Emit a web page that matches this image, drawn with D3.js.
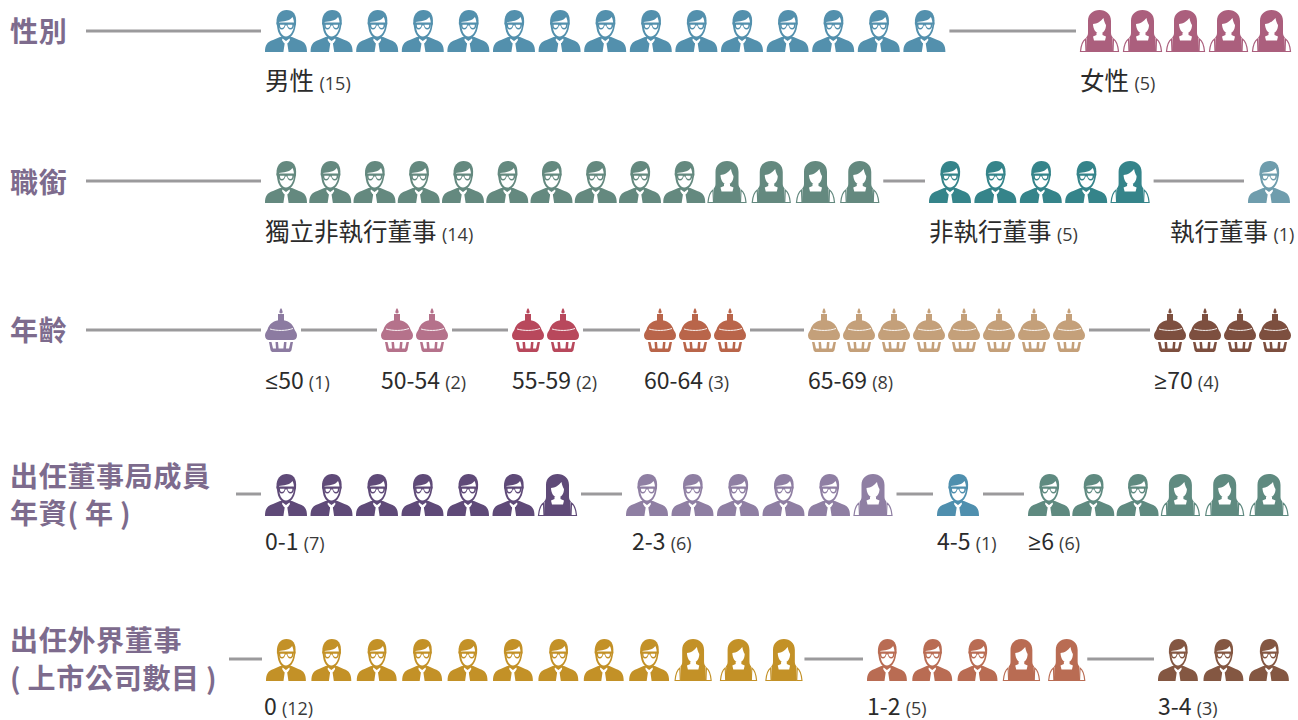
<!DOCTYPE html>
<html>
<head>
<meta charset="utf-8">
<script src="https://cdn.jsdelivr.net/npm/d3@7"></script>
<style>
html, body { margin: 0; padding: 0; background: #fff; }
svg { display: block; }
.title { font-family: "Noto Sans CJK TC"; font-weight: 700; font-size: 28px; letter-spacing: 0.7px; fill: #7d6b8d; }
.label { font-family: "Noto Sans CJK TC"; font-size: 23px; fill: #2b2b2b; }
.label.cjk { font-size: 24.5px; }
.label .sign { font-family: "Open Sans"; font-size: 23px; }
.label .count { font-family: "Open Sans"; font-size: 18px; fill: #3a3a3a; }
</style>
</head>
<body>
<svg width="1298" height="720"></svg>
<script>
'use strict';

// 每列的標題
var rowTitles = [['性別'], ['職銜'], ['年齡'], ['出任董事局成員', '年資(\u2009年\u2009)'], ['出任外界董事', '(\u2009上市公司數目\u2009)']];

// 每組的名稱 / 人數 / 其中女性人數 / 顏色
var rowLabels = [
    ['男性', '女性'],
    ['獨立非執行董事', '非執行董事', '執行董事'],
    ['≤50', '50-54', '55-59', '60-64', '65-69', '≥70'],
    ['0-1', '2-3', '4-5', '≥6'],
    ['0', '1-2', '3-4']
];
var rowCounts = [
    [15, 5],
    [14, 5, 1],
    [1, 2, 2, 3, 8, 4],
    [7, 6, 1, 6],
    [12, 5, 3]
];
var rowFemales = [
    [0, 5],
    [4, 1, 0],
    [0, 0, 0, 0, 0, 0],
    [1, 1, 0, 3],
    [3, 2, 0]
];
var rowColors = [
    ['#5390ad', '#ab5f7d'],
    ['#64897f', '#35848a', '#6f9dad'],
    ['#8c7ba1', '#b5728b', '#b8485c', '#b9654a', '#c4a07a', '#7d4f3f'],
    ['#5f4a78', '#8f7fa3', '#4f8fae', '#5f8a80'],
    ['#c39127', '#b96c53', '#845742']
];

// 版面
var rowY = [10, 161, 308, 474, 639];
var rowLineY = [31, 181, 330, 494, 659];
var rowLineStart = [86, 86, 86, 236, 229];
var titleY = [[42], [193], [341], [487, 524], [651, 689]];
var groupX = [
    [265, 1080],
    [265, 929, 1248],
    [265, 381, 512, 644, 808, 1154],
    [265, 626, 937, 1028],
    [266, 867, 1158]
];
var groupPitch = [
    [45.6, 43],
    [44.25, 45.4, 0],
    [35, 35, 35, 35, 35, 35],
    [45.5, 45.5, 0, 44.3],
    [45.4, 45.3, 45.5]
];
var labelY = [90, 241, 389, 550, 715];
var labelDx = [[0, 0], [0, 0, -78], [0, 0, 0, 0, 0, 0], [0, 6, 0, 0], [-2, 0, 0]];
var lineGap = [4, 4, 4, 4, 2];
var iconScale = [1, 1, 1, 1, 0.95];

var personW = 42, womanW = 39, cupW = 32;

var svg = d3.select('svg');
var defs = svg.append('defs');

// 男性圖示 (42x42)
var man = defs.append('g').attr('id', 'man');
man.append('path').attr('d', 'M0,42 C0,35 2,32 8,30 L15,27 L27,27 L34,30 C40,32 42,35 42,42 Z').attr('fill', 'currentColor');
man.append('path').attr('d', 'M11.5,13 C11,4 16,0 21.5,0 C28,0 32,4 31,14 L30,19 C28.5,25 24.5,29 21,29 C17.5,29 13.5,25 12.5,19 Z').attr('fill', 'currentColor');
man.append('path').attr('d', 'M14,12 C18,11.5 25,11 27.5,7 C28.5,9 29,11 29,14 C29,21 25,26.5 21,26.5 C17,26.5 13.5,21 14,12 Z').attr('fill', '#fff');
man.append('path').attr('d', 'M11.5,12.5 L31,12.5 L31,14.5 L29,14.5 C29,18 27.5,19.5 25.5,19.5 C23.5,19.5 22.3,17.5 22,15.5 L20.3,15.5 C20,17.5 18.8,19.5 16.8,19.5 C14.8,19.5 13.5,18 13.5,14.5 L11.5,14.5 Z M15,14.7 C15,16.8 15.5,18 16.8,18 C18.6,18 19.5,16.4 19.6,14.7 Z M22.6,14.7 C22.7,16.4 23.7,18 25.5,18 C26.8,18 27.4,16.8 27.4,14.7 Z').attr('fill', 'currentColor').attr('fill-rule', 'evenodd');
man.append('path').attr('d', 'M17.5,28.5 L21,31 L24.5,28.5 L25,30 L23,33 L19,33 L17,30 Z').attr('fill', '#fff');
man.append('path').attr('d', 'M19.3,31 L22.7,31 L22.4,34 L23.6,42 L18.4,42 L19.6,34 Z').attr('fill', '#fff');

// 女性圖示 (39x42)
var woman = defs.append('g').attr('id', 'woman');
woman.append('path').attr('d', 'M8,23 L8,11 C8,4 13,0 19.5,0 C26,0 31,4 31,11 L31,23 C31,25 32,26.5 33,28 L6,28 C7,26.5 8,25 8,23 Z').attr('fill', 'currentColor');
woman.append('path').attr('d', 'M13,14 C17,14 21,11 23.5,8 C24,11 25,13.5 26,15 C26,20 23,23.5 19.5,23.5 C16,23.5 13,19 13,14 Z').attr('fill', '#fff');
woman.append('path').attr('d', 'M6.5,28 L13,26 L26,26 L32.5,28 L33,42 L6,42 Z').attr('fill', 'currentColor');
woman.append('path').attr('d', 'M16.5,23 L22.5,23 L22.5,25 L26,26.5 L25,30.5 L14,30.5 L13,26.5 L16.5,25 Z').attr('fill', '#fff');
woman.append('path').attr('d', 'M5.5,29 C2.5,31 1,36 0.5,41.5 L6,41.5 Z M33.5,29 C36.5,31 38,36 38.5,41.5 L33,41.5 Z').attr('fill', 'none').attr('stroke', 'currentColor').attr('stroke-width', 1.2);

// 蛋糕圖示 (32x44)
var cup = defs.append('g').attr('id', 'cup');
cup.append('path').attr('d', 'M16,0 C17.2,2 17.6,3 17.6,4 C17.6,5 17,5.4 16,5.4 C15,5.4 14.4,5 14.4,4 C14.4,3 14.8,2 16,0 Z').attr('fill', 'currentColor');
cup.append('rect').attr('x', 13).attr('y', 6).attr('width', 6).attr('height', 7).attr('fill', 'currentColor');
cup.append('path').attr('d', 'M0,27.5 C0,25 1.5,23.5 2.5,21.5 C4,16 9,12 16,12 C23,12 28,16 29.5,21.5 C30.5,23.5 32,25 32,27.5 C32,30.5 30,32 28,32 L4,32 C2,32 0,30.5 0,27.5 Z').attr('fill', 'currentColor');
cup.append('path').attr('d', 'M5,21 C12,23 21,23 28,20.5').attr('fill', 'none').attr('stroke', '#fff').attr('stroke-width', 0.9);
cup.append('path').attr('d', 'M4,34 L6.5,34 L8,40.5 L11,40.5 L10.5,34 L13,34 L13.6,40.5 L18.4,40.5 L19,34 L21.5,34 L21,40.5 L24,40.5 L25.5,34 L28,34 L26.5,42 C26,43.5 25,44 24,44 L8,44 C7,44 6,43.5 5.5,42 Z').attr('fill', 'currentColor');

// 標題
rowTitles.forEach(function (lines, r) {
    lines.forEach(function (line, l) {
        svg.append('text')
            .attr('class', 'title')
            .attr('x', 10)
            .attr('y', titleY[r][l])
            .text(line);
    });
});

// 每列: 灰線 + 圖示 + 文字
rowCounts.forEach(function (counts, r) {
    var isCup = r === 2;
    var rowG = svg.append('g');

    function isWoman(g, i) {
        return i >= counts[g] - rowFemales[r][g];
    }

    // 灰線: 由標題到第一組, 再連接各組之間
    var ends = counts.map(function (c, g) {
        var w = isCup ? cupW : (rowFemales[r][g] ? womanW : personW);
        return groupX[r][g] + (c - 1) * groupPitch[r][g] + w * iconScale[r];
    });
    var segs = [[rowLineStart[r], groupX[r][0] - 4]];
    for (var g = 1; g < counts.length; g++) {
        segs.push([ends[g - 1] + lineGap[r], groupX[r][g] - 4]);
    }
    rowG.selectAll('line')
        .data(segs)
        .enter()
        .append('line')
        .attr('x1', function (d) { return d[0]; })
        .attr('x2', function (d) { return d[1]; })
        .attr('y1', rowLineY[r])
        .attr('y2', rowLineY[r])
        .attr('stroke', '#9b9a9c')
        .attr('stroke-width', 3);

    counts.forEach(function (c, g) {
        var x = d3.scaleLinear().domain([0, 1]).range([groupX[r][g], groupX[r][g] + groupPitch[r][g]]);
        rowG.append('g')
            .selectAll('use')
            .data(d3.range(c))
            .enter()
            .append('use')
            .attr('href', function (i) {
                if (isCup) return '#cup';
                return isWoman(g, i) ? '#woman' : '#man';
            })
            .attr('transform', function (i) {
                return 'translate(' + x(i) + ',' + rowY[r] + ') scale(' + iconScale[r] + ',1)';
            })
            .style('color', rowColors[r][g]);

        var name = rowLabels[r][g];
        var isCjk = /[\u4e00-\u9fff]/.test(name);
        var t = rowG.append('text')
            .attr('class', isCjk ? 'label cjk' : 'label')
            .attr('x', groupX[r][g] + labelDx[r][g])
            .attr('y', labelY[r]);
        if (/^[≤≥]/.test(name)) {
            t.append('tspan').attr('class', 'sign').text(name.charAt(0));
            name = name.slice(1);
        }
        t.append('tspan').text(name + ' ');
        t.append('tspan').attr('class', 'count').text('(' + c + ')');
    });
});
</script>
</body>
</html>
